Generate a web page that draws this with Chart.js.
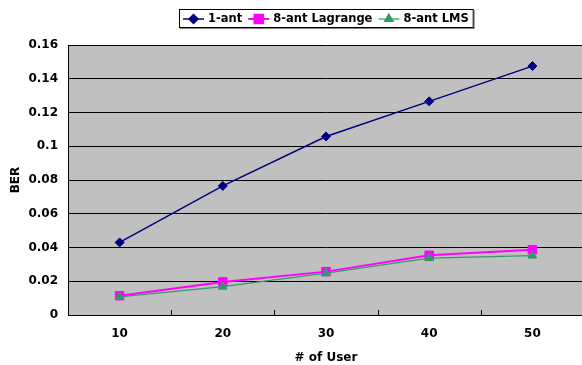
<!DOCTYPE html>
<html>
<head>
<meta charset="utf-8">
<script src="https://cdn.jsdelivr.net/npm/chart.js@4"></script>
<style>
  html, body { margin: 0; padding: 0; background: #fff; overflow: hidden; }
  /* a little wider than the window so the plot runs past the right edge */
  #wrap { width: 591px; height: 365px; }
</style>
</head>
<body>
<div id="wrap"><canvas id="berChart"></canvas></div>
<script>
const users = ['10', '20', '30', '40', '50'];
const oneAnt = [0.043, 0.0765, 0.1058, 0.1266, 0.1475];
const lagrange = [0.0114, 0.0196, 0.0257, 0.0354, 0.0387];
const lms = [0.0107, 0.0168, 0.0248, 0.0337, 0.0352];
const berMin = 0, berMax = 0.16, berStep = 0.02;

Chart.defaults.font.family = 'DejaVu Sans';
Chart.defaults.font.weight = 'bold';
Chart.defaults.font.size = 12;
Chart.defaults.color = '#000';

// grey plot background
const plotBg = {
    id: 'plotBg',
    beforeDraw(chart) {
        const { ctx, chartArea: a } = chart;
        ctx.save();
        ctx.fillStyle = '#C0C0C0';
        ctx.fillRect(a.left, a.top, a.right - a.left, a.bottom - a.top);
        ctx.restore();
    }
};

// small inside tick marks between the categories
const xTickMarks = {
    id: 'xTickMarks',
    beforeDatasetsDraw(chart) {
        const { ctx, scales: { x }, chartArea: a } = chart;
        ctx.save();
        ctx.strokeStyle = '#000';
        ctx.lineWidth = 1;
        for (let i = 1; i < users.length; i++) {
            const px = Math.round((x.getPixelForValue(i - 1) + x.getPixelForValue(i)) / 2) + 0.5;
            ctx.beginPath();
            ctx.moveTo(px, a.bottom);
            ctx.lineTo(px, a.bottom - 5);
            ctx.stroke();
        }
        ctx.restore();
    }
};

// boxed legend with line + marker samples
const boxLegend = {
    id: 'boxLegend',
    afterDraw(chart) {
        const { ctx, chartArea: a } = chart;
        const sets = chart.data.datasets;
        ctx.save();
        ctx.font = 'bold 11.5px "DejaVu Sans"';
        const sampleW = 21, gapText = 4, gapItem = 6, padL = 4, padR = 5;
        let total = padL + padR;
        sets.forEach((ds, i) => {
            total += sampleW + gapText + ctx.measureText(ds.label).width;
            if (i < sets.length - 1) total += gapItem;
        });
        const left = Math.round((a.left + a.right) / 2 - total / 2);
        const top = 9, h = 19;
        // shadow + box
        ctx.fillStyle = '#808080';
        ctx.fillRect(left + 1, top + 1, total, h);
        ctx.fillStyle = '#fff';
        ctx.fillRect(left, top, total, h);
        ctx.strokeStyle = '#000';
        ctx.lineWidth = 1;
        ctx.strokeRect(left + 0.5, top + 0.5, total - 1, h - 1);

        const cy = top + h / 2 + 0.5;
        let x = left + padL;
        sets.forEach(ds => {
            ctx.strokeStyle = ds.borderColor;
            ctx.lineWidth = ds.borderWidth;
            ctx.beginPath();
            ctx.moveTo(x, cy);
            ctx.lineTo(x + sampleW, cy);
            ctx.stroke();
            Chart.helpers.drawPoint(ctx, {
                pointStyle: ds.pointStyle,
                radius: ds.pointRadius,
                borderWidth: 1
            }, x + sampleW / 2, cy);
            ctx.fillStyle = ds.pointBackgroundColor;
            ctx.strokeStyle = ds.pointBorderColor;
            ctx.fill();
            x += sampleW + gapText;
            ctx.fillStyle = '#000';
            ctx.textBaseline = 'middle';
            ctx.fillText(ds.label, x, cy);
            x += ctx.measureText(ds.label).width + gapItem;
        });
        ctx.restore();
    }
};

new Chart(document.getElementById('berChart'), {
    type: 'line',
    data: {
        labels: users,
        datasets: [
            {
                label: '1-ant',
                data: oneAnt,
                borderColor: '#000080',
                borderWidth: 1.5,
                pointStyle: 'rectRot',
                pointRadius: 4.5,
                pointBackgroundColor: '#000080',
                pointBorderColor: '#000080',
                pointBorderWidth: 1,
                order: 2
            },
            {
                label: '8-ant Lagrange',
                data: lagrange,
                borderColor: '#FF00FF',
                borderWidth: 2,
                pointStyle: 'rect',
                pointRadius: 6,
                pointBackgroundColor: '#FF00FF',
                pointBorderColor: '#FF00FF',
                pointBorderWidth: 1,
                order: 1
            },
            {
                label: '8-ant LMS',
                data: lms,
                borderColor: '#339966',
                borderWidth: 1.2,
                pointStyle: 'triangle',
                pointRadius: 5,
                pointBackgroundColor: '#339966',
                pointBorderColor: '#339966',
                pointBorderWidth: 1,
                order: 0
            }
        ]
    },
    options: {
        responsive: true,
        maintainAspectRatio: false,
        animation: false,
        layout: { padding: { top: 45, left: 0, right: 0, bottom: 0 } },
        plugins: {
            legend: { display: false },
            tooltip: { enabled: false }
        },
        elements: { line: { tension: 0 } },
        scales: {
            x: {
                offset: true,
                grid: { display: false, drawTicks: false },
                border: { display: true, color: '#000', width: 1 },
                ticks: { padding: 12 },
                title: { display: true, text: '# of User', padding: { top: 0, bottom: 0 } },
                afterFit: s => { s.height = 50; }
            },
            y: {
                min: berMin,
                max: berMax,
                grid: { color: '#000', lineWidth: 1, drawTicks: false },
                border: { display: true, color: '#000', width: 1 },
                ticks: {
                    stepSize: berStep,
                    padding: 10,
                    callback: v => String(Number(v.toFixed(2)))
                },
                title: { display: true, text: 'BER', padding: { top: 9, bottom: 0 } },
                afterFit: s => { s.width = 68; }
            }
        }
    },
    plugins: [plotBg, xTickMarks, boxLegend]
});
</script>
</body>
</html>
